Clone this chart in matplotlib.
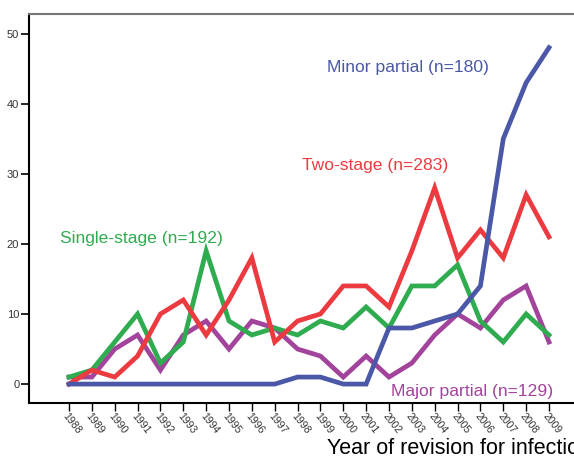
import matplotlib
matplotlib.use("Agg")
import matplotlib.pyplot as plt

plt.rcParams['font.family'] = ['Liberation Sans', 'DejaVu Sans']

years = list(range(1988, 2010))
minor_partial = [0, 0, 0, 0, 0, 0, 0, 0, 0, 0, 1, 1, 0, 0, 8, 8, 9, 10, 14, 35, 43, 48]
two_stage = [0, 2, 1, 4, 10, 12, 7, 12, 18, 6, 9, 10, 14, 14, 11, 19, 28, 18, 22, 18, 27, 21]
single_stage = [1, 2, 6, 10, 3, 6, 19, 9, 7, 8, 7, 9, 8, 11, 8, 14, 14, 17, 9, 6, 10, 7]
major_partial = [1, 1, 5, 7, 2, 7, 9, 5, 9, 8, 5, 4, 1, 4, 1, 3, 7, 10, 8, 12, 14, 6]

c_blue = "#4b58a8"
c_red = "#ec3b40"
c_green = "#2fab50"
c_purple = "#a2439c"

fig = plt.figure(figsize=(5.74, 4.59), dpi=100)
# axes runs past the right edge, like the cropped original
ax = fig.add_axes([29/574, 56/459, 1.04 - 29/574, 389/459])

lw = 3.4
ax.plot(years, major_partial, color=c_purple, lw=lw, solid_joinstyle='miter')
ax.plot(years, single_stage, color=c_green, lw=lw, solid_joinstyle='miter')
ax.plot(years, two_stage, color=c_red, lw=lw, solid_joinstyle='miter')
ax.plot(years, minor_partial, color=c_blue, lw=lw, solid_joinstyle='miter')

ax.set_xlim(1986.25, 1986.25 + (1.04 * 574 - 29) / 22.857)
ax.set_ylim(-2.7, 52.8)

ax.set_yticks([0, 10, 20, 30, 40, 50])
ax.set_xticks(years)
ax.set_xticklabels([str(y) for y in years], rotation=-52, ha='left', va='top',
                   rotation_mode='anchor', fontsize=7.5, color='#333333')
ax.tick_params(axis='y', length=6, width=1.2, labelsize=8, labelcolor='#333333', pad=1)
ax.tick_params(axis='x', length=6, width=1.0, pad=0)

ax.spines['right'].set_visible(False)
ax.spines['top'].set_color('#777777')
ax.spines['top'].set_linewidth(1.5)
ax.spines['left'].set_linewidth(1.5)
ax.spines['bottom'].set_linewidth(1.5)

fs = 12.6
ax.text(1999.29, 45.2, "Minor partial (n=180)", color=c_blue, fontsize=fs, va='center')
ax.text(1998.19, 31.2, "Two-stage (n=283)", color=c_red, fontsize=fs, va='center')
ax.text(1987.61, 20.8, "Single-stage (n=192)", color=c_green, fontsize=fs, va='center')
ax.text(2002.09, -1.1, "Major partial (n=129)", color=c_purple, fontsize=fs, va='center')

# the original figure is cropped, so the axis title runs off the right edge
fig.text(327/574, 1 - 449/459, "Year of revision for infection", fontsize=15.5,
         ha='left', va='center', color='black')

fig.savefig("out.png", dpi=100)
